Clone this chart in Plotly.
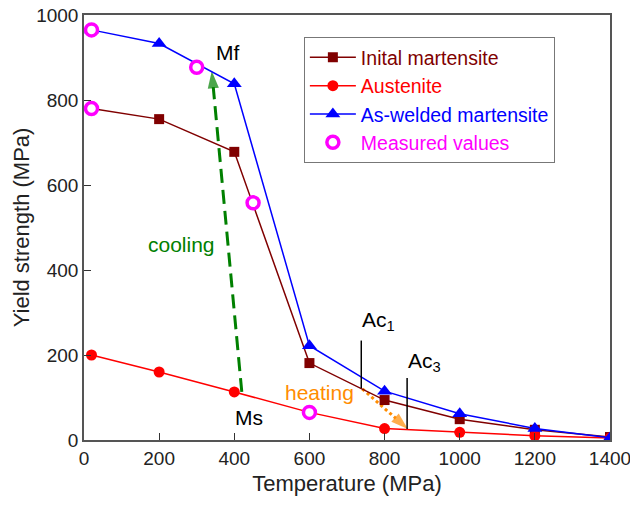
import plotly.graph_objects as go

# Temperatures at which yield strength was evaluated
temperature = [20, 200, 400, 600, 800, 1000, 1200, 1400]

initial_martensite = [780, 755, 678, 181, 94, 49, 24, 7]
austenite = [200, 160, 113, 65, 27, 18, 10, 5]
as_welded_martensite = [965, 933, 838, 222, 115, 62, 27, 5]

measured_temperature = [20, 20, 300, 450, 600]
measured_values = [965, 780, 877, 558, 65]

x_ticks = [0, 200, 400, 600, 800, 1000, 1200, 1400]
y_ticks = [0, 200, 400, 600, 800, 1000]

# Transformation paths (temperature, strength)
cooling_x = [420, 340]
cooling_y = [113, 868]
heating_x = [741, 862]
heating_y = [120, 26]
ac1_line = (738, 122, 234)
ac3_line = (860, 26, 146)

FONT = "Liberation Sans, Arial, sans-serif"
BROWN = "#800000"
RED = "#ff0000"
BLUE = "#0000ff"
MAGENTA = "#ff00ff"
GREEN = "#008000"
ORANGE = "#ff8c00"


def colored(text, color):
    return f"<span style='color:{color}'>{text}</span>"


fig = go.Figure()

# Cooling (dashed) and heating (dotted) paths, each ending in an arrowhead
for xs, ys, col, dash in ((cooling_x, cooling_y, GREEN, "14px,7px"),
                          (heating_x, heating_y, ORANGE, "dot")):
    fig.add_trace(go.Scatter(
        x=xs, y=ys, mode="lines+markers", showlegend=False, hoverinfo="skip",
        line=dict(color=col, width=3, dash=dash),
        marker=dict(symbol=["circle", "arrow"], size=[0, 18], color=col,
                    angleref="previous", line=dict(width=0)),
    ))

fig.add_trace(go.Scatter(
    x=temperature, y=initial_martensite, mode="lines+markers",
    name=colored("Inital martensite", BROWN),
    line=dict(color=BROWN, width=1.5),
    marker=dict(symbol="square", size=10, color=BROWN),
))
fig.add_trace(go.Scatter(
    x=temperature, y=austenite, mode="lines+markers",
    name=colored("Austenite", RED),
    line=dict(color=RED, width=1.5),
    marker=dict(symbol="circle", size=11, color=RED),
))
fig.add_trace(go.Scatter(
    x=temperature, y=as_welded_martensite, mode="lines+markers",
    name=colored("As-welded martensite", BLUE),
    line=dict(color=BLUE, width=1.5),
    marker=dict(symbol="triangle-up", size=13, color=BLUE),
))
fig.add_trace(go.Scatter(
    x=measured_temperature, y=measured_values, mode="markers",
    name=colored("Measured values", MAGENTA),
    marker=dict(symbol="circle", size=12, color="white",
                line=dict(width=3.5, color=MAGENTA)),
))

# Ac1 / Ac3 markers
for xv, y0, y1 in (ac1_line, ac3_line):
    fig.add_shape(type="line", xref="x", yref="y", x0=xv, x1=xv, y0=y0, y1=y1,
                  line=dict(color="black", width=1.5))

labels = [
    (381, 912, "Mf", "black"),
    (440, 54, "Ms", "black"),
    (260, 459, "cooling", GREEN),
    (628, 111, "heating", ORANGE),
    (784, 279, "Ac<sub>1</sub>", "black"),
    (905, 184, "Ac<sub>3</sub>", "black"),
]
for xv, yv, txt, col in labels:
    fig.add_annotation(x=xv, y=yv, text=txt, showarrow=False, xref="x", yref="y",
                       font=dict(family=FONT, size=21, color=col))

axis_common = dict(
    showline=True, linecolor="#555555", linewidth=1.5, mirror=True,
    ticks="inside", ticklen=7, tickwidth=1, tickcolor="#333333",
    showgrid=False, zeroline=False, ticklabeloverflow="allow",
    automargin=False,
    tickfont=dict(family=FONT, size=19, color="#222222"),
)

fig.update_layout(
    width=630, height=505,
    margin=dict(l=84, r=20, t=15, b=65),
    plot_bgcolor="white", paper_bgcolor="white",
    font=dict(family=FONT, size=19, color="#222222"),
    xaxis=dict(range=[0, 1400], tickvals=x_ticks,
               title=dict(text="Temperature (MPa)", font=dict(family=FONT, size=22), standoff=8),
               **axis_common),
    yaxis=dict(range=[0, 1000], tickvals=y_ticks,
               title=dict(text="Yield strength (MPa)", font=dict(family=FONT, size=22), standoff=0),
               **axis_common),
    legend=dict(x=0.418, y=0.948, xanchor="left", yanchor="top",
                bordercolor="#777777", borderwidth=1, bgcolor="white",
                font=dict(family=FONT, size=19.5), tracegroupgap=0,
                itemwidth=46),
    showlegend=True,
)

fig.write_html("out.html")
